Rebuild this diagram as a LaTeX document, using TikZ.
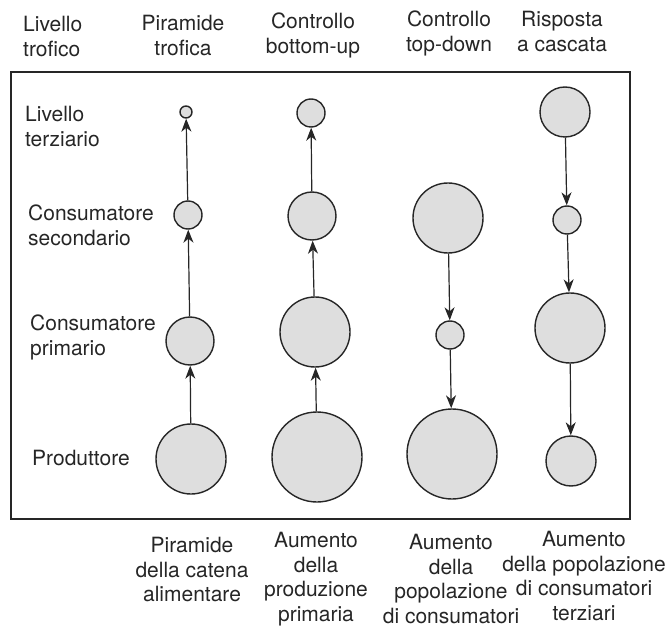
\documentclass[tikz,border=0pt]{standalone}
\usepackage{fontspec}
\setmainfont{TeX Gyre Heros}
\usetikzlibrary{arrows.meta}

\begin{document}
\begin{tikzpicture}[x=1pt,y=-1pt,>=Stealth]
     \tikzstyle{pop}=[circle,draw=black!85,fill=black!13,line width=1.4pt,inner sep=0pt]
     \tikzstyle{flow} = [draw,line width=1.2pt,black!85,-{Stealth[length=13pt,width=10pt,inset=4pt]}]
     \tikzstyle{lab}=[font=\fontsize{21}{24.5}\selectfont,text=black!85,inner sep=0pt,align=center]
     \useasboundingbox (0,0) rectangle (667,631);

     \node[lab,anchor=north west,align=left] (hlev) at (23,16) {Livello\\trofico};
     \node[lab,anchor=north] (hpir) at (183,15) {Piramide\\trofica};
     \node[lab,anchor=north] (hbu) at (313,13) {Controllo\\bottom-up};
     \node[lab,anchor=north] (htd) at (449,11) {Controllo\\top-down};
     \node[lab,anchor=north] (hcas) at (562,11) {Risposta\\a cascata};

     \draw[black!85,line width=1.4pt] (11,72) rectangle (630,519);

     \node[lab,anchor=north west,align=left] (lter) at (25,106) {Livello\\terziario};
     \node[lab,anchor=north west,align=left] (lsec) at (28,205) {Consumatore\\secondario};
     \node[lab,anchor=north west,align=left] (lpri) at (30,315) {Consumatore\\primario};
     \node[lab,anchor=north west,align=left] (lprod) at (32,450) {Produttore};

     \node[pop,minimum size=12pt] (pt) at (186,112) {};
     \node[pop,minimum size=28pt] (ps) at (188,215) {};
     \node[pop,minimum size=48pt] (pp) at (190,341) {};
     \node[pop,minimum size=70pt] (pr) at (191,459) {};

     \node[pop,minimum size=28pt] (bt) at (311,113) {};
     \node[pop,minimum size=48pt] (bs) at (312,216) {};
     \node[pop,minimum size=70pt] (bp) at (315,332) {};
     \node[pop,minimum size=90pt] (br) at (317,457) {};

     \node[pop,minimum size=70pt] (ds) at (448,218) {};
     \node[pop,minimum size=28pt] (dp) at (450,335) {};
     \node[pop,minimum size=90pt] (dr) at (452,454) {};

     \node[pop,minimum size=50pt] (ct) at (565,112) {};
     \node[pop,minimum size=28pt] (cs) at (567,220) {};
     \node[pop,minimum size=70pt] (cp) at (570,328) {};
     \node[pop,minimum size=50pt] (cr) at (571,461) {};

     \draw[flow] (pr) -- (pp);
     \draw[flow] (pp) -- (ps);
     \draw[flow] (ps) -- (pt);

     \draw[flow] (br) -- (bp);
     \draw[flow] (bp) -- (bs);
     \draw[flow] (bs) -- (bt);

     \draw[flow] (ds) -- (dp);
     \draw[flow] (dp) -- (dr);

     \draw[flow] (ct) -- (cs);
     \draw[flow] (cs) -- (cp);
     \draw[flow] (cp) -- (cr);

     \node[lab,anchor=north] (fpir) at (192,537) {Piramide\\della catena\\alimentare};
     \node[lab,anchor=north] (fbu) at (316,532) {Aumento\\della\\produzione\\primaria};
     \node[lab,anchor=north] (ftd) at (451,534) {Aumento\\della\\popolazione\\di consumatori};
     \node[lab,anchor=north] (fcas) at (584,531) {Aumento\\della popolazione\\di consumatori\\terziari};
 \end{tikzpicture}
\end{document}
